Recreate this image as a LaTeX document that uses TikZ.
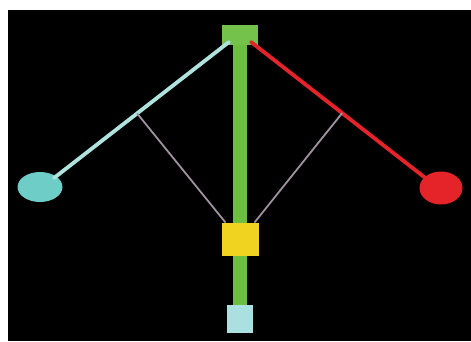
\documentclass[tikz,border=0pt]{standalone}
\usetikzlibrary{shapes.geometric,calc}
\begin{document}
\begin{tikzpicture}[x=1pt,y=-1pt,
  blk/.style={draw=none,inner sep=0pt,outer sep=0pt},
  wire/.style={line width=3.8pt,line cap=round},
  thin/.style={line width=1.8pt,draw=graylink}]
\definecolor{grn}{RGB}{108,190,64}
\definecolor{grntop}{RGB}{116,194,76}
\definecolor{cyanline}{RGB}{175,228,222}
\definecolor{cyanball}{RGB}{110,205,198}
\definecolor{redc}{RGB}{228,36,40}
\definecolor{yel}{RGB}{240,210,32}
\definecolor{paleblue}{RGB}{170,224,224}
\definecolor{graylink}{RGB}{160,145,160}
\useasboundingbox (0,0) rectangle (471,341);
\fill[white] (0,0) rectangle (471,341);
\fill[black] (8,10) rectangle (471,341);
% vertical bar
\node[blk,fill=grn,minimum width=14pt,minimum height=262pt] (bar) at (240,176) {};
% top square
\node[blk,fill=grntop,minimum width=36pt,minimum height=20pt] (top) at (240,35) {};
% ellipses
\node[blk,ellipse,fill=cyanball,minimum width=45pt,minimum height=30pt] (lball) at (40,187) {};
\node[blk,ellipse,fill=redc,minimum width=43pt,minimum height=33pt] (rball) at (441,188) {};
% arm endpoints
\coordinate (ltop) at (229,42);
\coordinate (lend) at (54,178);
\coordinate (rtop) at (251,42);
\coordinate (rend) at (428,180);
\draw[wire,draw=cyanline] (ltop) -- (lend);
\draw[wire,draw=redc] (rtop) -- (rend);
% yellow square
\node[blk,fill=yel,minimum width=37pt,minimum height=33pt] (yel) at (240,239) {};
% bottom square
\node[blk,fill=paleblue,minimum width=26pt,minimum height=28pt] (bot) at (240,319) {};
% gray links
\coordinate (lmid) at ($(ltop)!0.525!(lend)$);
\coordinate (rmid) at ($(rtop)!0.515!(rend)$);
\draw[thin] (lmid) -- ([xshift=4pt]yel.north west);
\draw[thin] (rmid) -- ([xshift=-4pt]yel.north east);
\end{tikzpicture}
\end{document}
